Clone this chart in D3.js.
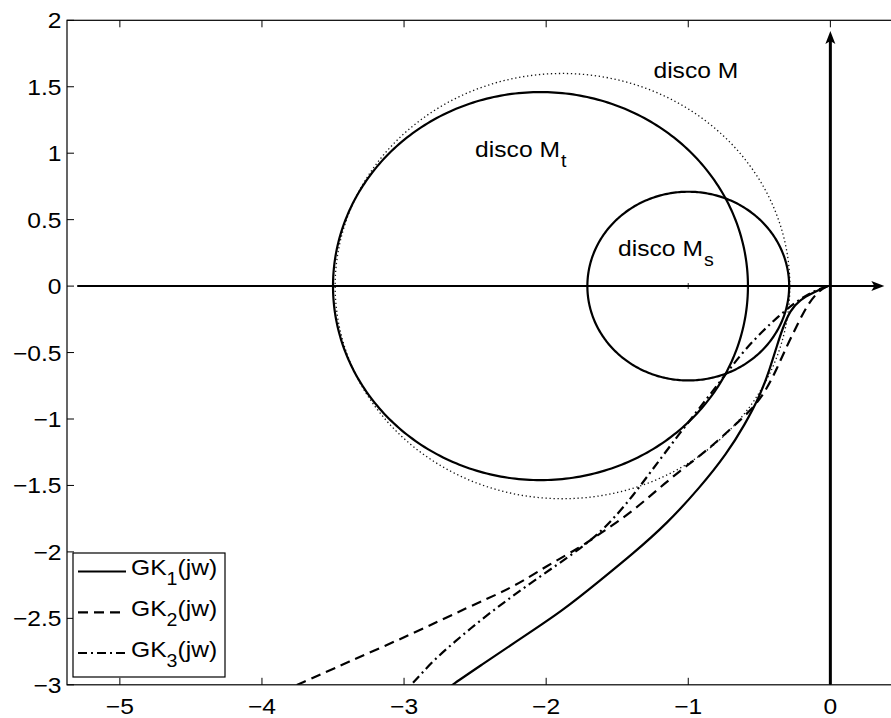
<!DOCTYPE html>
<html>
<head>
<meta charset="utf-8">
<script src="https://cdn.jsdelivr.net/npm/d3@7/dist/d3.min.js"></script>
<style>
  body { margin: 0; background: #fff; }
  text { font-family: "Liberation Sans", Arial, Helvetica, sans-serif; fill: #000; }
</style>
</head>
<body>
<svg id="chart" width="891" height="718"></svg>
<script>
// ---- axis settings ----
const xTicks = [-5, -4, -3, -2, -1, 0];
const yTicks = [2, 1.5, 1, 0.5, 0, -0.5, -1, -1.5, -2, -2.5, -3];
const xLimits = [-5.372, 0.5];
const yLimits = [-3, 2];

// ---- M discs in the Nyquist plane: centre on the real axis and radius ----
const discLabels = ["disco M", "disco M", "disco M"];
const discSubs = ["", "t", "s"];
const discCentres = [-1.885, -2.04, -1.0];
const discRadii = [1.6, 1.46, 0.71];
const discLabelX = [-1.245, -2.5, -1.494];
const discLabelY = [1.565, 0.975, 0.225];

// ---- Nyquist curves GK_i(jw) ----
const gk1Re = [-0.02, -0.122, -0.214, -0.284, -0.334, -0.376, -0.425, -0.495, -0.602, -0.728, -0.918, -1.15, -1.389, -1.622, -1.882, -2.234, -2.452, -2.67, -2.72];
const gk1Im = [0, -0.049, -0.102, -0.184, -0.312, -0.448, -0.621, -0.824, -1.042, -1.26, -1.516, -1.787, -2.013, -2.216, -2.442, -2.69, -2.848, -3.006, -3.05];

const gk2Re = [-0.02, -0.073, -0.158, -0.235, -0.305, -0.376, -0.453, -0.552, -0.7, -0.868, -1.058, -1.248, -1.431, -1.621, -1.762, -1.994, -2.234, -2.557, -2.938, -3.402, -3.76, -3.82];
const gk2Im = [0, -0.026, -0.132, -0.297, -0.448, -0.621, -0.786, -0.929, -1.072, -1.238, -1.388, -1.561, -1.727, -1.862, -1.968, -2.103, -2.269, -2.419, -2.615, -2.833, -3.005, -3.03];

const gk3Re = [-0.02, -0.129, -0.249, -0.369, -0.481, -0.594, -0.685, -0.777, -0.875, -0.974, -1.072, -1.178, -1.284, -1.389, -1.495, -1.621, -1.762, -1.931, -2.114, -2.29, -2.466, -2.642, -2.804, -2.952, -2.99];
const gk3Im = [0, -0.041, -0.124, -0.23, -0.343, -0.471, -0.591, -0.719, -0.855, -0.99, -1.125, -1.275, -1.426, -1.576, -1.712, -1.855, -1.975, -2.103, -2.239, -2.374, -2.517, -2.675, -2.826, -3.006, -3.04];

const seriesNames = ["GK", "GK", "GK"];
const seriesSubs = ["1", "2", "3"];
const seriesTail = ["(jw)", "(jw)", "(jw)"];
const seriesDash = [null, "10,6", "9,4,2,4"];

// axis arrows (real axis and imaginary axis)
const realAxisFrom = [-5.3, 0];
const realAxisTo = [0.38, 0];
const imagAxisFrom = [0, -3];
const imagAxisTo = [0, 1.92];

// ---- layout ----
const W = 891, H = 718;
const plotLeft = 67, plotTop = 20.3, plotBottom = 684.8;
const pxPerUnitX = 142.1;
const fontSize = 22, subSize = 17.5, stretch = 1.12;
const x = d3.scaleLinear().domain(xLimits)
  .range([plotLeft, plotLeft + (xLimits[1] - xLimits[0]) * pxPerUnitX]);
const y = d3.scaleLinear().domain(yLimits).range([plotBottom, plotTop]);

const svg = d3.select("#chart");
svg.append("rect").attr("width", W).attr("height", H).attr("fill", "#fff");

// text placed at (px, py), slightly widened like the printed figure
function label(parent, px, py, anchor) {
  return parent.append("text")
    .attr("transform", `translate(${px},${py}) scale(${stretch},1)`)
    .attr("text-anchor", anchor || "start")
    .attr("font-size", fontSize);
}

svg.append("defs").append("clipPath").attr("id", "plotClip")
  .append("rect")
  .attr("x", x(xLimits[0])).attr("y", y(yLimits[1]))
  .attr("width", x(xLimits[1]) - x(xLimits[0]))
  .attr("height", y(yLimits[0]) - y(yLimits[1]));

const plot = svg.append("g").attr("clip-path", "url(#plotClip)");

// discs drawn as closed parametric outlines through the scales
const angles = d3.range(0, 361, 1).map(a => a * Math.PI / 180);
const discLine = d3.line().x(d => x(d[0])).y(d => y(d[1]));
discCentres.forEach((c, i) => {
  const pts = angles.map(t => [c + discRadii[i] * Math.cos(t), discRadii[i] * Math.sin(t)]);
  const p = plot.append("path").attr("d", discLine(pts)).attr("fill", "none");
  if (i === 0) {
    p.attr("stroke", "#111").attr("stroke-width", 1.3).attr("stroke-dasharray", "1.3,2.7");
  } else {
    p.attr("stroke", "#000").attr("stroke-width", 2.2);
  }
});

// centre marker of M_s
plot.append("path")
  .attr("d", `M${x(discCentres[2]) - 3},${y(0)}h6M${x(discCentres[2])},${y(0) - 3}v6`)
  .attr("stroke", "#555").attr("stroke-width", 1.2);

// real and imaginary axes with arrowheads
plot.append("line")
  .attr("x1", x(realAxisFrom[0])).attr("y1", y(realAxisFrom[1]))
  .attr("x2", x(realAxisTo[0]) - 6).attr("y2", y(realAxisTo[1]))
  .attr("stroke", "#000").attr("stroke-width", 2);
{
  const tx = x(realAxisTo[0]), ty = y(realAxisTo[1]);
  plot.append("path")
    .attr("d", `M${tx},${ty}L${tx - 13},${ty - 5}L${tx - 10},${ty}L${tx - 13},${ty + 5}Z`)
    .attr("fill", "#000");
}
plot.append("line")
  .attr("x1", x(imagAxisFrom[0])).attr("y1", y(imagAxisFrom[1]))
  .attr("x2", x(imagAxisTo[0])).attr("y2", y(imagAxisTo[1]) + 6)
  .attr("stroke", "#000").attr("stroke-width", 3);
{
  const tx = x(imagAxisTo[0]), ty = y(imagAxisTo[1]);
  plot.append("path")
    .attr("d", `M${tx},${ty}L${tx - 5},${ty + 13}L${tx},${ty + 10}L${tx + 5},${ty + 13}Z`)
    .attr("fill", "#000");
}

// Nyquist curves, smoothed through the sampled points
const curve = d3.line().x(d => x(d[0])).y(d => y(d[1])).curve(d3.curveBasis);
const seriesRe = [gk1Re, gk2Re, gk3Re];
const seriesIm = [gk1Im, gk2Im, gk3Im];
seriesRe.forEach((re, i) => {
  const pts = re.map((v, k) => [v, seriesIm[i][k]]);
  const p = plot.append("path").attr("d", curve(pts))
    .attr("fill", "none").attr("stroke", "#000").attr("stroke-width", 2.2);
  if (seriesDash[i]) p.attr("stroke-dasharray", seriesDash[i]);
});

// disc labels
discLabels.forEach((lab, i) => {
  const t = label(svg, x(discLabelX[i]), y(discLabelY[i]));
  t.append("tspan").text(lab);
  if (discSubs[i]) {
    t.append("tspan").attr("dy", 10).attr("font-size", subSize).attr("dx", 1).text(discSubs[i]);
  }
});

// box and ticks
const axes = svg.append("g");
const xr = x(xLimits[1]);
axes.append("rect")
  .attr("x", x(xLimits[0])).attr("y", y(yLimits[1]))
  .attr("width", xr - x(xLimits[0])).attr("height", y(yLimits[0]) - y(yLimits[1]))
  .attr("fill", "none").attr("stroke", "#000").attr("stroke-width", 1.2);

const tickLen = 7;
const fmt = v => (v < 0 ? "\u2212" + Math.abs(v) : String(v));
xTicks.forEach(v => {
  axes.append("line").attr("x1", x(v)).attr("x2", x(v))
    .attr("y1", y(yLimits[0])).attr("y2", y(yLimits[0]) - tickLen)
    .attr("stroke", "#000").attr("stroke-width", 1);
  axes.append("line").attr("x1", x(v)).attr("x2", x(v))
    .attr("y1", y(yLimits[1])).attr("y2", y(yLimits[1]) + tickLen)
    .attr("stroke", "#000").attr("stroke-width", 1);
  label(axes, x(v), 713.5, "middle").text(fmt(v));
});
yTicks.forEach(v => {
  axes.append("line").attr("x1", x(xLimits[0])).attr("x2", x(xLimits[0]) + tickLen)
    .attr("y1", y(v)).attr("y2", y(v))
    .attr("stroke", "#000").attr("stroke-width", 1);
  label(axes, 61.5, y(v) + 8, "end").text(fmt(v));
});

// legend
const legend = svg.append("g");
const lgLeft = 73, lgRight = 225, lgTop = 553, lgBottom = 677;
const rowY = [571.5, 612.3, 653];
legend.append("rect")
  .attr("x", lgLeft).attr("y", lgTop)
  .attr("width", lgRight - lgLeft).attr("height", lgBottom - lgTop)
  .attr("fill", "#fff").attr("stroke", "#000").attr("stroke-width", 1.2);
seriesNames.forEach((nm, i) => {
  const l = legend.append("line")
    .attr("x1", 78).attr("x2", 126).attr("y1", rowY[i]).attr("y2", rowY[i])
    .attr("stroke", "#000").attr("stroke-width", 2.2);
  if (seriesDash[i]) l.attr("stroke-dasharray", seriesDash[i]);
  const t = label(legend, 131, rowY[i] + 3.5);
  t.append("tspan").text(nm);
  t.append("tspan").attr("dy", 10).attr("font-size", subSize).text(seriesSubs[i]);
  t.append("tspan").attr("dy", -10).attr("font-size", fontSize).text(seriesTail[i]);
});
</script>
</body>
</html>
